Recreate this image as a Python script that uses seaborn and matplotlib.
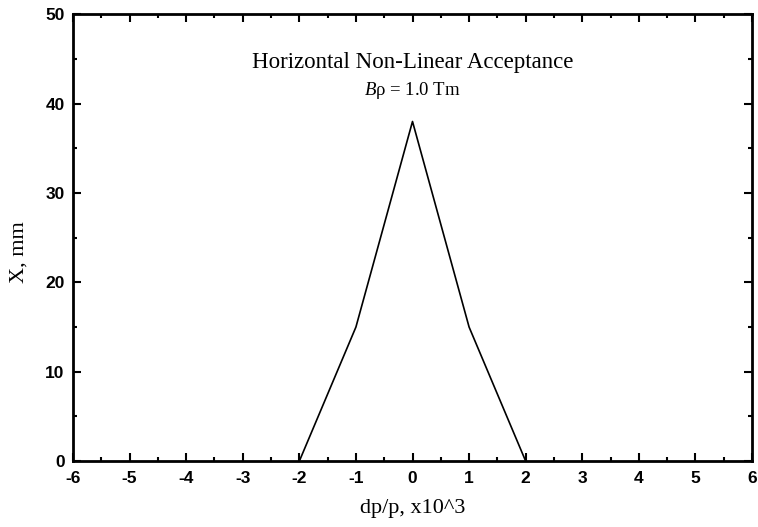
import pandas as pd
import seaborn as sns
import matplotlib.pyplot as plt
from matplotlib.ticker import MultipleLocator

sns.set_style('ticks')
plt.rcParams['font.family'] = ['Liberation Serif', 'DejaVu Serif']
plt.rcParams['mathtext.fontset'] = 'custom'
plt.rcParams['mathtext.it'] = 'Liberation Serif:italic'
plt.rcParams['mathtext.rm'] = 'Liberation Serif'
plt.rcParams['axes.unicode_minus'] = False
plt.rcParams['text.color'] = 'black'
plt.rcParams['axes.labelcolor'] = 'black'
plt.rcParams['xtick.color'] = 'black'
plt.rcParams['ytick.color'] = 'black'

# data
dpp = [-2, -1, 0, 1, 2]
x_mm = [0, 15, 38, 15, 0]
x_ticks = [-6, -5, -4, -3, -2, -1, 0, 1, 2, 3, 4, 5, 6]
y_ticks = [0, 10, 20, 30, 40, 50]

df = pd.DataFrame({'dp/p': dpp, 'X': x_mm})

fig = plt.figure(figsize=(7.58, 5.27), dpi=100)
ax = fig.add_axes([0.0963, 0.125, 0.8958, 0.848])

sns.lineplot(data=df, x='dp/p', y='X', ax=ax, color='black', linewidth=1.2, sort=False)

ax.set_xlim(-6, 6)
ax.set_ylim(0, 50)
ax.set_xticks(x_ticks)
ax.set_yticks(y_ticks)
ax.xaxis.set_minor_locator(MultipleLocator(0.5))
ax.yaxis.set_minor_locator(MultipleLocator(5))
ax.tick_params(which='both', direction='in', top=True, right=True, width=1.5)
ax.tick_params(which='major', length=6)
ax.tick_params(which='minor', length=3)
for lab in ax.get_xticklabels() + ax.get_yticklabels():
    lab.set_family('Liberation Sans')
    lab.set_fontweight('bold')
    lab.set_fontsize(12.5)
ax.tick_params(axis='x', pad=7)
ax.tick_params(axis='y', pad=6)
for s in ax.spines.values():
    s.set_linewidth(2)
    s.set_color('black')

ax.set_xlabel('dp/p, x10^3', fontsize=16)
ax.set_ylabel('X, mm', fontsize=16)
ax.xaxis.set_label_coords(0.5, -0.085)
ax.yaxis.set_label_coords(-0.066, 0.468)

ax.text(0, 44.6, 'Horizontal Non-Linear Acceptance', ha='center', va='center', fontsize=16.5)
ax.text(0, 41.5, r'$B$ρ = 1.0 Tm', ha='center', va='center', fontsize=13.5)

plt.savefig('out.png', dpi=100)
